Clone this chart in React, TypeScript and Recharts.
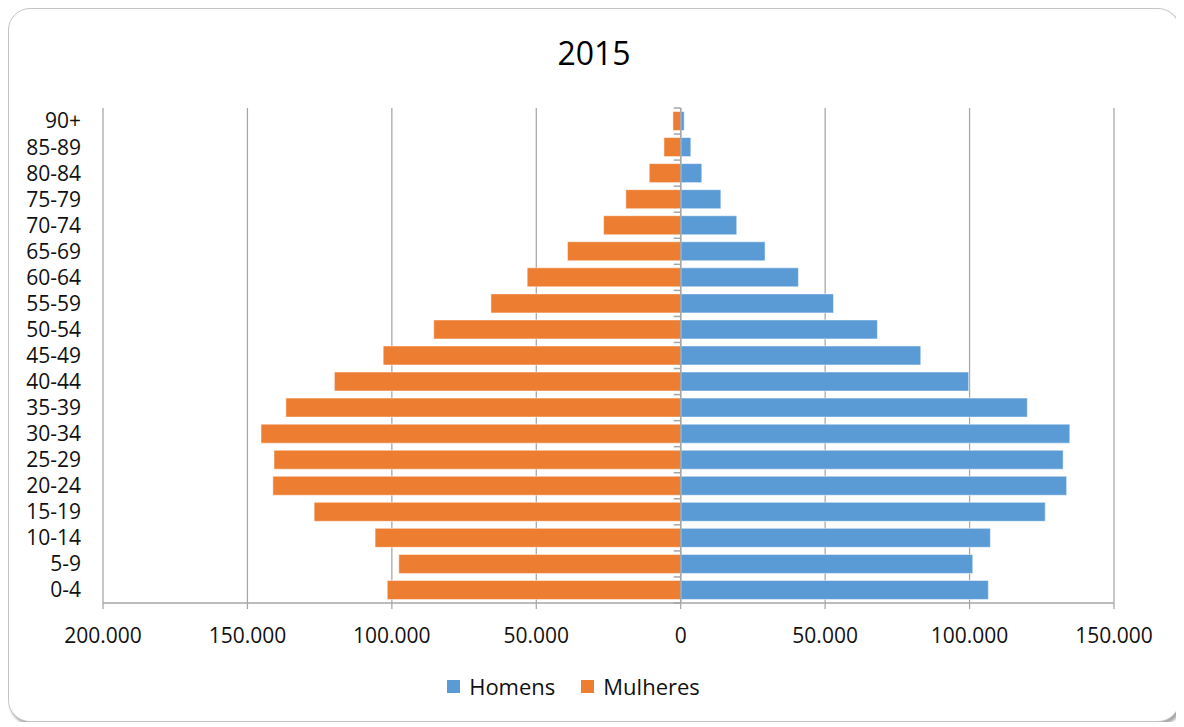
import {
  BarChart,
  Bar,
  XAxis,
  YAxis,
  CartesianGrid,
  Legend,
  ReferenceLine,
} from 'recharts';

const ageGroups = [
  '0-4', '5-9', '10-14', '15-19', '20-24', '25-29', '30-34', '35-39', '40-44', '45-49',
  '50-54', '55-59', '60-64', '65-69', '70-74', '75-79', '80-84', '85-89', '90+',
];

const homens = [
  106500, 101100, 107200, 126200, 133600, 132400, 134700, 120000, 99700, 83100,
  68100, 52900, 40750, 29200, 19400, 13900, 7300, 3500, 1200,
];

const mulheres = [
  101600, 97600, 105800, 126900, 141200, 140800, 145300, 136700, 119900, 103000,
  85500, 65700, 53150, 39200, 26700, 19000, 10900, 5800, 2700,
];

const xTicks = [-200000, -150000, -100000, -50000, 0, 50000, 100000, 150000];

const BLUE = '#5B9BD5';
const ORANGE = '#ED7D31';
const GRID = '#a6a6a6';
const FONT = '"Open Sans", sans-serif';

// women go to the left, so they are stored negative in the chart table
const data = ageGroups.map((age, i) => ({
  age,
  Homens: homens[i],
  Mulheres: -mulheres[i],
}));

const fmt = (v: number) =>
  String(Math.abs(v)).replace(/\B(?=(\d{3})+(?!\d))/g, '.');

// zero line acts as the category axis, with small ticks between groups
const ZeroAxis = (props: any) => {
  const { x1, y1, x2, y2 } = props;
  const n = ageGroups.length;
  const top = Math.min(y1, y2);
  const bottom = Math.max(y1, y2);
  const step = (bottom - top) / n;
  return (
    <g>
      <line x1={x1} y1={y1} x2={x2} y2={y2} stroke={GRID} strokeWidth={1.5} />
      {Array.from({ length: n + 1 }, (_, i) => (
        <line
          key={i}
          x1={x1 - 7}
          x2={x1}
          y1={top + step * i}
          y2={top + step * i}
          stroke={GRID}
          strokeWidth={1.5}
        />
      ))}
    </g>
  );
};

const renderLegend = (props: any) => {
  const { payload } = props;
  return (
    <div
      style={{
        height: 30,
        display: 'flex',
        justifyContent: 'center',
        alignItems: 'center',
        fontFamily: FONT,
        fontSize: 22,
        color: '#111',
      }}
    >
      {payload.map((p: any) => (
        <div key={p.value} style={{ display: 'flex', alignItems: 'center', margin: '0 13px' }}>
          <span
            style={{
              display: 'inline-block',
              width: 13,
              height: 13,
              background: p.color,
              marginRight: 9,
            }}
          />
          {p.value}
        </div>
      ))}
    </div>
  );
};

export default function App() {
  return (
    <div
      style={{
        position: 'relative',
        width: 1172,
        height: 714,
        boxSizing: 'border-box',
        border: '1px solid #c4c4c4',
        borderRadius: 22,
        boxShadow: '2px 3px 3px rgba(0,0,0,0.35)',
        background: '#fff',
      }}
    >
      <div
        style={{
          position: 'absolute',
          top: 28,
          left: 0,
          width: '100%',
          textAlign: 'center',
          fontFamily: FONT,
          fontSize: 32,
          lineHeight: '32px',
          color: '#000',
        }}
      >
        2015
      </div>
      <BarChart
        width={1170}
        height={712}
        data={data}
        layout="vertical"
        stackOffset="sign"
        barCategoryGap="13.5%"
        margin={{ top: 99, right: 65, left: 24, bottom: 20 }}
      >
        <CartesianGrid horizontal={false} stroke={GRID} strokeWidth={1.25} />
        <XAxis
          type="number"
          domain={[-200000, 150000]}
          ticks={xTicks}
          tickFormatter={fmt}
          height={68}
          tickSize={6}
          tickMargin={19}
          stroke={GRID}
          axisLine={{ stroke: GRID, strokeWidth: 1.5 }}
          tickLine={{ stroke: GRID, strokeWidth: 1.25 }}
          tick={{ fill: '#111', fontFamily: FONT, fontSize: 21 }}
          interval={0}
        />
        <YAxis
          type="category"
          dataKey="age"
          reversed
          width={70}
          axisLine={false}
          tickLine={false}
          tickSize={6}
          tickMargin={16}
          tick={{ fill: '#111', fontFamily: FONT, fontSize: 21 }}
          interval={0}
        />
        <Bar
          dataKey="Homens"
          stackId="pop"
          fill={BLUE}
          stroke="#ffffff"
          strokeOpacity={0.5}
          strokeWidth={1}
          isAnimationActive={false}
        />
        <Bar
          dataKey="Mulheres"
          stackId="pop"
          fill={ORANGE}
          stroke="#ffffff"
          strokeOpacity={0.5}
          strokeWidth={1}
          isAnimationActive={false}
        />
        <ReferenceLine x={0} shape={ZeroAxis} />
        <Legend verticalAlign="bottom" content={renderLegend} />
      </BarChart>
    </div>
  );
}
